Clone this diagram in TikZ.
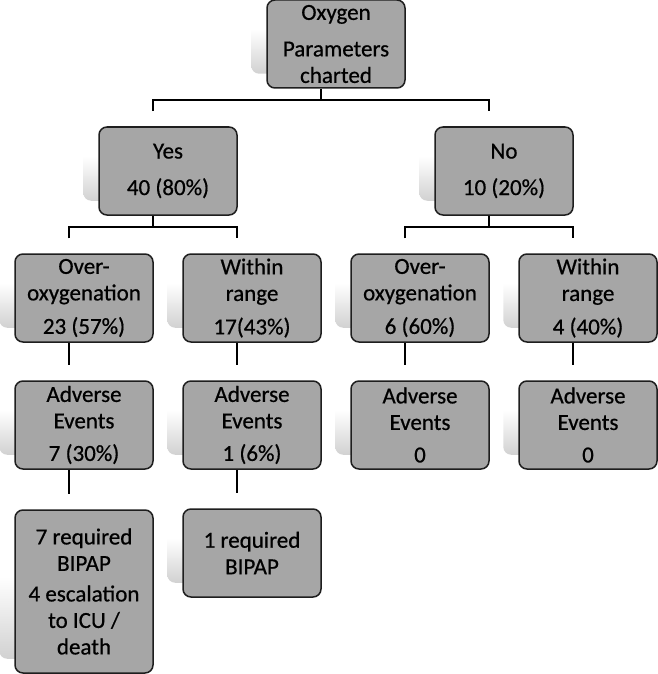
\documentclass[tikz,border=0pt]{standalone}
\usepackage{fontspec}
\setmainfont{Carlito}
\newfontface\boxfont{Carlito}[FakeBold=0.6]
\usetikzlibrary{calc,backgrounds}
\definecolor{boxgray}{RGB}{166,166,166}
\definecolor{rimgray}{RGB}{30,30,30}

\begin{document}
\begin{tikzpicture}[x=1pt, y=-1pt, line width=1.5pt,
  box/.style={rectangle, rounded corners=8pt, draw=rimgray, fill=boxgray,
    minimum width=138pt, minimum height=88pt, inner sep=0pt, align=center,
    font=\boxfont\fontsize{23}{26.5}\selectfont},
  glow/.style={rounded corners=8pt, top color=white, bottom color=black!18,
    middle color=white}]
  \useasboundingbox (0,0) rectangle (657,674);
  \path node (R)  at (336, 44) [box] {Oxygen\\[10pt]Parameters\\charted}
        %
        node (Y)  at (168,171) [box] {Yes\\[10pt]40 (80\%)}
        node (N)  at (504,171) [box] {No\\[10pt]10 (20\%)}
        %
        node (YO) at ( 84,298) [box] {Over-\\oxygenation\\[7pt]23 (57\%)}
        node (YW) at (252,298) [box] {Within\\range\\[7pt]17(43\%)}
        node (NO) at (420,298) [box] {Over-\\oxygenation\\[7pt]6 (60\%)}
        node (NW) at (588,298) [box] {Within\\range\\[7pt]4 (40\%)}
        %
        node (YOa) at ( 84,425) [box] {Adverse\\Events\\[6pt]7 (30\%)}
        node (YWa) at (252,425) [box] {Adverse\\Events\\[6pt]1 (6\%)}
        node (NOa) at (420,425) [box] {Adverse\\Events\\[6pt]0}
        node (NWa) at (588,425) [box] {Adverse\\Events\\[6pt]0}
        %
        node (YOb) at ( 84,591.5) [box, minimum height=163pt]
             {7 required\\BIPAP\\[4pt]4 escalation\\to ICU /\\death}
        node (YWb) at (252,553) [box] {1 required\\BIPAP};
  % shadows
  \begin{scope}[on background layer]
    \foreach \n in {R,Y,N,YO,YW,NO,NW,YOa,YWa,NOa,NWa,YOb,YWb}
      \path[glow] ([shift={(-15pt,15pt)}]\n.south west)
            rectangle ([shift={(-15pt,15pt)}]\n.north east);
  \end{scope}
  % forks
  \foreach \p/\a/\b in {R/Y/N, Y/YO/YW, N/NO/NW}
    \draw ([shift={(-15pt,15pt)}]\a.north)
          |- ($([xshift=-15pt]\p.south)!.5!([shift={(-15pt,15pt)}]\a.north)$)
          -| ([shift={(-15pt,15pt)}]\b.north)
          ($([xshift=-15pt]\p.south)!.5!([shift={(-15pt,15pt)}]\a.north)$)
          -| ([xshift=-15pt]\p.south);
  % straight drops
  \foreach \p/\c in {YO/YOa, YW/YWa, NO/NOa, NW/NWa, YOa/YOb, YWa/YWb}
    \draw ([xshift=-15pt]\p.south) -- ([shift={(-15pt,15pt)}]\c.north);
\end{tikzpicture}
\end{document}
